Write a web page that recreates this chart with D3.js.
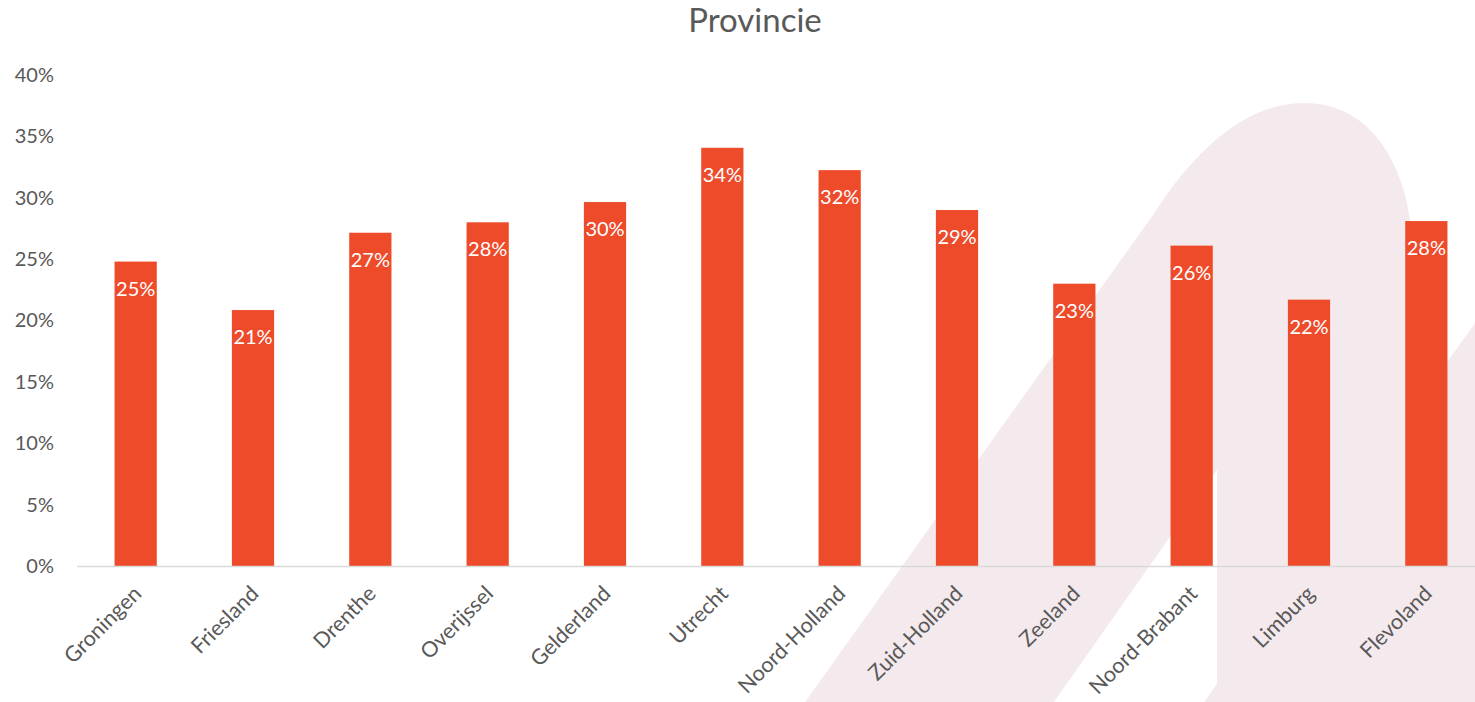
<!DOCTYPE html>
<html>
<head>
<meta charset="utf-8">
<script src="https://cdn.jsdelivr.net/npm/d3@7"></script>
<style>
  body { margin: 0; background: #fff; }
  svg { display: block; font-family: Lato, "Open Sans", sans-serif; }
</style>
</head>
<body>
<svg width="1475" height="702"></svg>
<script>
// provinces and share (%)
const provinces = ["Groningen", "Friesland", "Drenthe", "Overijssel", "Gelderland", "Utrecht",
  "Noord-Holland", "Zuid-Holland", "Zeeland", "Noord-Brabant", "Limburg", "Flevoland"];
const shares = [24.8, 20.85, 27.15, 28.0, 29.65, 34.07, 32.25, 29.0, 23.0, 26.1, 21.7, 28.1];
const yTicks = [0, 5, 10, 15, 20, 25, 30, 35, 40];

const svg = d3.select("svg");
const data = provinces.map((p, i) => ({ name: p, value: shares[i] }));

// faint logo shape behind the chart
const bg = svg.append("g").attr("fill", "#f4eaed");
bg.append("path")
  .attr("d", "M805,702 L1153,215 C1195,150 1245,103 1305,103 C1370,103 1413,165 1413,260 " +
    "L1413,702 L1238,702 Q1217,702 1217,680 L1217,470 L1054,702 Z");
bg.append("path")
  .attr("d", "M1475,323 L1475,702 L1204,702 Z");

const x = d3.scaleBand()
  .domain(provinces)
  .range([77, 1485])
  .paddingInner(0.64)
  .paddingOuter(0.32);

const y = d3.scaleLinear()
  .domain([0, 40])
  .range([566, 75]);

// title
svg.append("text")
  .attr("x", 755)
  .attr("y", 32)
  .attr("text-anchor", "middle")
  .attr("fill", "#595959")
  .style("font-size", "33px")
  .text("Provincie");

// y axis labels (no line, no ticks)
const yAxis = d3.axisLeft(y)
  .tickValues(yTicks)
  .tickFormat(d => d + "%")
  .tickSize(0)
  .tickPadding(0);
const ya = svg.append("g").attr("transform", "translate(54,0)").call(yAxis);
ya.select(".domain").remove();
ya.selectAll("text")
  .attr("fill", "#595959")
  .style("font-size", "20px")
  .style("font-family", "Lato, sans-serif");

// bars
svg.append("g").selectAll("rect")
  .data(data)
  .enter()
  .append("rect")
  .attr("x", d => x(d.name))
  .attr("y", d => y(d.value))
  .attr("width", x.bandwidth())
  .attr("height", d => y(0) - y(d.value))
  .attr("fill", "#ee4b2b");

// baseline
svg.append("line")
  .attr("x1", 77).attr("x2", 1475)
  .attr("y1", y(0) + 0.5).attr("y2", y(0) + 0.5)
  .attr("stroke", "#d9d9d9")
  .attr("stroke-width", 1.5);

// data labels
svg.append("g").selectAll("text")
  .data(data)
  .enter()
  .append("text")
  .attr("x", d => x(d.name) + x.bandwidth() / 2)
  .attr("y", d => y(d.value) + 34)
  .attr("text-anchor", "middle")
  .attr("fill", "#ffffff")
  .style("font-size", "20px")
  .text(d => Math.round(d.value) + "%");

// category labels, rotated
svg.append("g").selectAll("text")
  .data(provinces)
  .enter()
  .append("text")
  .attr("transform", d => `translate(${x(d) + x.bandwidth() / 2 + 7},595) rotate(-45)`)
  .attr("text-anchor", "end")
  .attr("fill", "#595959")
  .style("font-size", "21.5px")
  .text(d => d);
</script>
</body>
</html>
